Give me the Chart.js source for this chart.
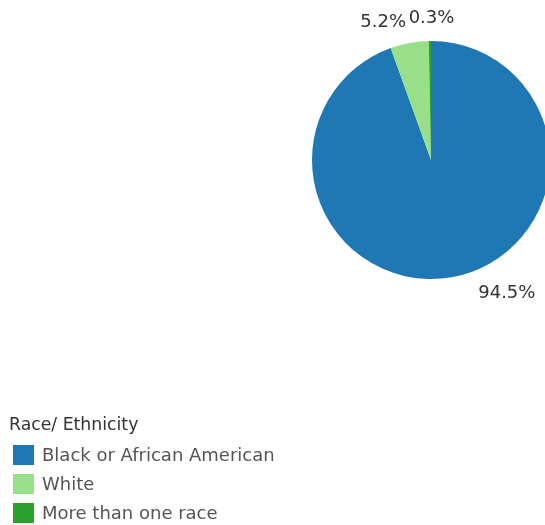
<!DOCTYPE html>
<html>
<head>
<meta charset="utf-8">
<script src="https://cdn.jsdelivr.net/npm/chart.js@4.4.1/dist/chart.umd.min.js"></script>
<style>
    html, body { margin: 0; padding: 0; background: #fff; }
    #wrap { position: relative; width: 545px; height: 525px; overflow: hidden; }
    #raceChart { position: absolute; left: 0; top: 0; }
    #legend { position: absolute; left: 9px; top: 414px; font-family: 'DejaVu Sans', sans-serif; }
    #legend .title { font-size: 17.3px; color: #333; margin-bottom: 6px; }
    #legend .item { display: flex; align-items: center; height: 29px; font-size: 18px; color: #555; }
    #legend .box { width: 21px; height: 20px; margin: 0 8px 0 4px; }
</style>
</head>
<body>
<div id="wrap">
    <canvas id="raceChart" width="545" height="525"></canvas>
    <div id="legend"></div>
</div>
<script>
const categories = ['Black or African American', 'White', 'More than one race'];
const shares = [94.5, 5.2, 0.3];
const sliceColors = ['#1f77b4', '#98df8a', '#2ca02c'];
const legendTitle = 'Race/ Ethnicity';

// where each percent label sits: angle clockwise from 12 o'clock, distance from centre
const labelSpots = [
    { angle: 150.4, dist: 153.5 },
    { angle: 340.8, dist: 145.5 },
    { angle: 0.2, dist: 141.5 }
];

const pctLabels = {
    id: 'pctLabels',
    afterDatasetsDraw(chart) {
        const ctx = chart.ctx;
        const meta = chart.getDatasetMeta(0);
        const data = chart.data.datasets[0].data;
        const total = data.reduce((a, b) => a + b, 0);
        ctx.save();
        ctx.font = '18px "DejaVu Sans", sans-serif';
        ctx.fillStyle = '#333';
        ctx.textAlign = 'center';
        ctx.textBaseline = 'middle';
        meta.data.forEach(function (arc, i) {
            const spot = labelSpots[i];
            const a = (spot.angle - 90) * Math.PI / 180;
            const x = arc.x + Math.cos(a) * spot.dist;
            const y = arc.y + Math.sin(a) * spot.dist;
            ctx.fillText((data[i] / total * 100).toFixed(1) + '%', x, y);
        });
        ctx.restore();
    }
};

const chart = new Chart(document.getElementById('raceChart'), {
    type: 'pie',
    data: {
        labels: categories,
        datasets: [{
            data: shares,
            backgroundColor: sliceColors,
            borderWidth: 0,
            clip: false
        }]
    },
    options: {
        responsive: false,
        animation: false,
        radius: 119,
        layout: { padding: { left: 317, right: 0, top: 41, bottom: 246 } },
        plugins: {
            legend: { display: false },
            tooltip: { enabled: false }
        }
    },
    plugins: [pctLabels]
});

// html legend built from the chart's own legend items
const legendEl = document.getElementById('legend');
const titleEl = document.createElement('div');
titleEl.className = 'title';
titleEl.textContent = legendTitle;
legendEl.appendChild(titleEl);
chart.options.plugins.legend.labels.generateLabels(chart).forEach(function (item) {
    const row = document.createElement('div');
    row.className = 'item';
    const box = document.createElement('span');
    box.className = 'box';
    box.style.background = item.fillStyle;
    row.appendChild(box);
    row.appendChild(document.createTextNode(item.text));
    legendEl.appendChild(row);
});
</script>
</body>
</html>
